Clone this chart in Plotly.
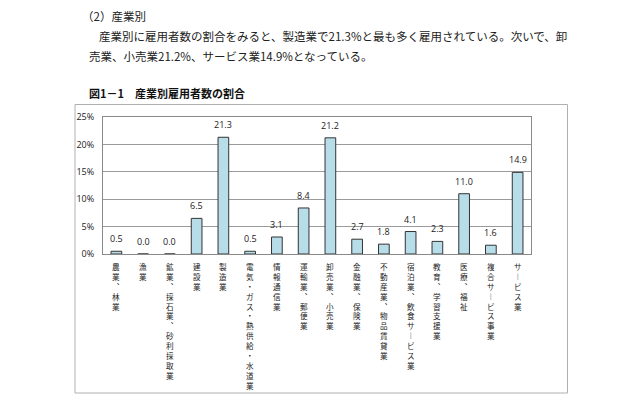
import plotly.graph_objects as go

categories = ["農業、林業", "漁業", "鉱業、採石業、砂利採取業", "建設業", "製造業",
              "電気・ガス・熱供給・水道業", "情報通信業", "運輸業、郵便業", "卸売業、小売業",
              "金融業、保険業", "不動産業、物品賃貸業", "宿泊業、飲食サービス業", "教育、学習支援業",
              "医療、福祉", "複合サービス事業", "サービス業"]
values = [0.5, 0.0, 0.0, 6.5, 21.3, 0.5, 3.1, 8.4, 21.2, 2.7, 1.8, 4.1, 2.3, 11.0, 1.6, 14.9]
y_ticks = [0, 5, 10, 15, 20, 25]

heading = "（2）産業別"
para1 = "産業別に雇用者数の割合をみると、製造業で21.3%と最も多く雇用されている。次いで、卸"
para2 = "売業、小売業21.2%、サービス業14.9%となっている。"
chart_title = "図1－1　産業別雇用者数の割合"


def vertical(s):
    return "<br>".join(list(s.replace("、", "︑").replace("ー", "︱")))


W, H = 640, 404
OFF = 8  # page body margin offset
L, R, T, B = 103, 531, 117, 254   # screen coordinates of plot area


def px(x):
    return (x - L) / (R - L)


def py(y):
    return (B - y) / (B - T)


fig = go.Figure()
fig.add_trace(go.Bar(
    x=categories, y=values,
    marker=dict(color="#b7dde8", line=dict(color="#333333", width=1)),
    width=0.4,
))

for c, v in zip(categories, values):
    fig.add_annotation(x=c, y=v, text=f"{v:.1f}", showarrow=False,
                       yanchor="bottom", yshift=4,
                       font=dict(family="Open Sans, sans-serif", size=9, color="#222222"))

# vertical category labels, one character per row
for c in categories:
    fig.add_annotation(x=c, xref="x", yref="paper", y=py(260), text=vertical(c),
                       showarrow=False, xanchor="center", yanchor="top",
                       borderpad=0, align="center",
                       font=dict(family="Noto Sans CJK JP", size=7.6, color="#222222"))

# outer chart frame
fig.add_shape(type="rect", xref="paper", yref="paper",
              x0=px(75), x1=px(567.5), y0=py(393), y1=py(104.5),
              line=dict(color="#b0b0b0", width=1), layer="below")

txt_font = dict(family="Noto Sans CJK JP", size=11.5, color="#222222")
fig.add_annotation(xref="paper", yref="paper", x=px(80), y=py(16), text=heading,
                   showarrow=False, xanchor="left", yanchor="middle", font=txt_font)
fig.add_annotation(xref="paper", yref="paper", x=px(97), y=py(36), text=para1,
                   showarrow=False, xanchor="left", yanchor="middle", font=txt_font)
fig.add_annotation(xref="paper", yref="paper", x=px(87), y=py(55.5), text=para2,
                   showarrow=False, xanchor="left", yanchor="middle", font=txt_font)
fig.add_annotation(xref="paper", yref="paper", x=px(87), y=py(93), text="<b>" + chart_title + "</b>",
                   showarrow=False, xanchor="left", yanchor="middle",
                   font=dict(family="Noto Sans CJK JP", size=11, color="#111111"))

fig.update_layout(
    width=W, height=H,
    margin=dict(l=L - OFF, r=W - (R - OFF), t=T - OFF, b=H - (B - OFF)),
    paper_bgcolor="white", plot_bgcolor="white",
    showlegend=False,
    bargap=0.6,
)
fig.update_xaxes(
    tickvals=categories, showticklabels=False,
    showline=True, linecolor="#8a8a8a", linewidth=1, mirror=True,
    ticks="",
)
fig.update_yaxes(
    range=[0, 25], tickvals=y_ticks, ticktext=[f"{t}%" for t in y_ticks],
    tickfont=dict(family="Open Sans, sans-serif", size=9, color="#222222"),
    ticklabelstandoff=6,
    showgrid=True, gridcolor="#9a9a9a", gridwidth=1,
    showline=True, linecolor="#8a8a8a", linewidth=1, mirror=True,
    ticks="", zeroline=False,
)

fig.write_html("out.html")
